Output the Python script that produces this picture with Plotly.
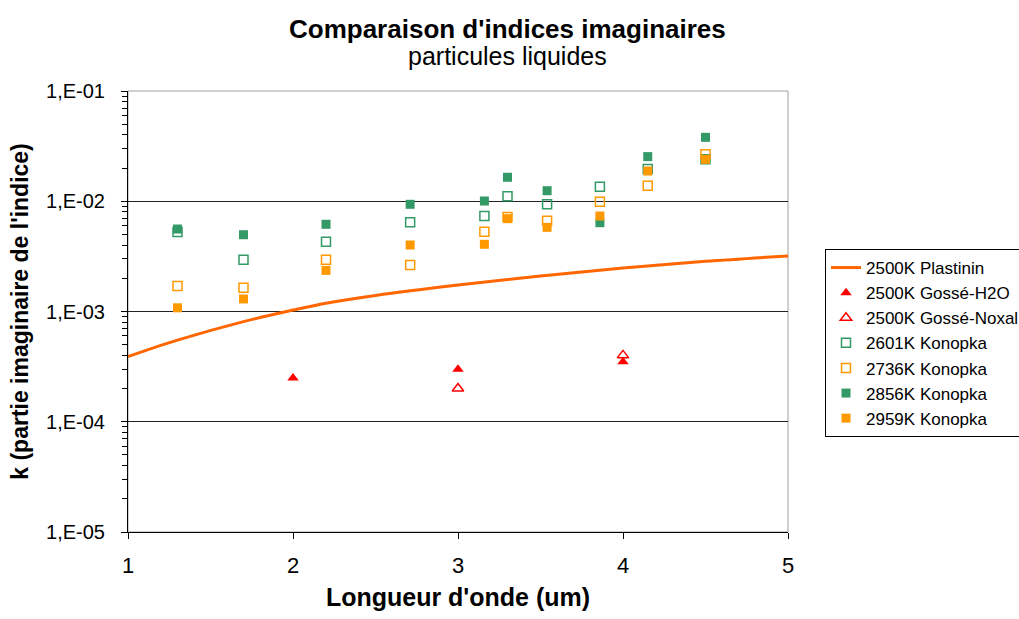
import plotly.graph_objects as go

# ---- data ----
wl_plastinin = [1.0, 1.3, 1.7, 2.0, 2.2, 2.5, 3.0, 3.5, 4.0, 4.5, 5.0]
k_plastinin = [3.9e-4, 5.5e-4, 8.1e-4, 1.03e-3, 1.19e-3, 1.40e-3, 1.74e-3, 2.10e-3, 2.48e-3, 2.85e-3, 3.19e-3]

wl_gosse_h2o = [2.0, 3.0, 4.0]
k_gosse_h2o = [2.5e-4, 3.0e-4, 3.5e-4]

wl_gosse_noxal = [3.0, 4.0]
k_gosse_noxal = [2.0e-4, 4.0e-4]

wl_konopka = [1.3, 1.7, 2.2, 2.71, 3.16, 3.3, 3.54, 3.86, 4.15, 4.5]
k_2601 = [0.00526, 0.00295, 0.0043, 0.00644, 0.00735, 0.0111, 0.00938, 0.01355, 0.0196, 0.024]
k_2736 = [0.0017, 0.00164, 0.00295, 0.00264, 0.00529, 0.0072, 0.00667, 0.00991, 0.01384, 0.0267]
k_2856 = [0.0056, 0.00497, 0.00618, 0.00938, 0.01005, 0.0165, 0.01246, 0.00639, 0.0254, 0.038]
k_2959 = [0.00108, 0.0013, 0.00236, 0.00401, 0.00407, 0.00695, 0.0058, 0.00735, 0.0188, 0.024]

y_tickvals = [1e-5, 1e-4, 1e-3, 1e-2, 1e-1]
y_ticktext = ["1,E-05", "1,E-04", "1,E-03", "1,E-02", "1,E-01"]
x_tickvals = [1, 2, 3, 4, 5]

GREEN = "#339966"
ORANGE = "#FF9900"
RED = "#FF0000"
LINE = "#FF6600"
FONT = "Liberation Sans, Arial, sans-serif"

fig = go.Figure()
fig.add_trace(go.Scatter(x=wl_plastinin, y=k_plastinin, mode="lines", name="2500K Plastinin",
                         line=dict(color=LINE, width=3, shape="spline")))
fig.add_trace(go.Scatter(x=wl_gosse_h2o, y=k_gosse_h2o, mode="markers", name="2500K Gossé-H2O",
                         marker=dict(symbol="triangle-up", color=RED, size=10)))
fig.add_trace(go.Scatter(x=wl_gosse_noxal, y=k_gosse_noxal, mode="markers", name="2500K Gossé-Noxal",
                         marker=dict(symbol="triangle-up-open", color=RED, size=10, line=dict(width=1.5))))
fig.add_trace(go.Scatter(x=wl_konopka, y=k_2601, mode="markers", name="2601K Konopka",
                         marker=dict(symbol="square-open", color=GREEN, size=9, line=dict(width=1.5))))
fig.add_trace(go.Scatter(x=wl_konopka, y=k_2736, mode="markers", name="2736K Konopka",
                         marker=dict(symbol="square-open", color=ORANGE, size=9, line=dict(width=1.5))))
fig.add_trace(go.Scatter(x=wl_konopka, y=k_2856, mode="markers", name="2856K Konopka",
                         marker=dict(symbol="square", color=GREEN, size=9)))
fig.add_trace(go.Scatter(x=wl_konopka, y=k_2959, mode="markers", name="2959K Konopka",
                         marker=dict(symbol="square", color=ORANGE, size=9)))

fig.update_layout(
    width=1019, height=619,
    margin=dict(l=128, r=231, t=91, b=87),
    paper_bgcolor="white", plot_bgcolor="white",
    font=dict(family=FONT, color="black"),
    showlegend=True,
    legend=dict(xref="container", yref="container", x=825 / 1019, y=1 - 249 / 619,
                xanchor="left", yanchor="top",
                bordercolor="black", borderwidth=1, bgcolor="white",
                font=dict(size=17, family=FONT), itemwidth=30,
                tracegroupgap=0),
    xaxis=dict(range=[1, 5], tickvals=x_tickvals, ticks="outside", ticklen=6,
               tickcolor="black", showline=True, linecolor="black", linewidth=1,
               showgrid=False, zeroline=False, tickfont=dict(size=22),
               ticklabelstandoff=8,
               title=dict(text="<b>Longueur d'onde (um)</b>", font=dict(size=25), standoff=11)),
    yaxis=dict(type="log", range=[-5, -1], tickmode="array", tickvals=y_tickvals,
               ticktext=y_ticktext, ticks="outside", ticklen=6, tickcolor="black",
               showline=True, linecolor="black", linewidth=1,
               showgrid=True, gridcolor="#222222", gridwidth=1, zeroline=False,
               tickfont=dict(size=20), ticklabelstandoff=12,
               minor=dict(dtick="D1", ticks="outside", ticklen=5, tickcolor="black", showgrid=False),
               title=dict(text="<b>k (partie imaginaire de l'indice)</b>", font=dict(size=23), standoff=11)),
    shapes=[dict(type="rect", xref="paper", yref="paper", x0=0, x1=1, y0=0, y1=1,
                 line=dict(color="#A0A0A0", width=1), layer="below")],
    annotations=[
        dict(text="<b>Comparaison d'indices imaginaires</b>", xref="paper", yref="paper",
             x=0.5 + (507 - 458) / 660, y=1 + (91 - 29) / 441, xanchor="center", yanchor="middle",
             showarrow=False, font=dict(size=26)),
        dict(text="particules liquides", xref="paper", yref="paper",
             x=0.5 + (507 - 458) / 660, y=1 + (91 - 56) / 441, xanchor="center", yanchor="middle",
             showarrow=False, font=dict(size=25)),
    ],
)

fig.write_html("out.html", config={"displayModeBar": False},
               post_script="document.body.style.margin='0';")
